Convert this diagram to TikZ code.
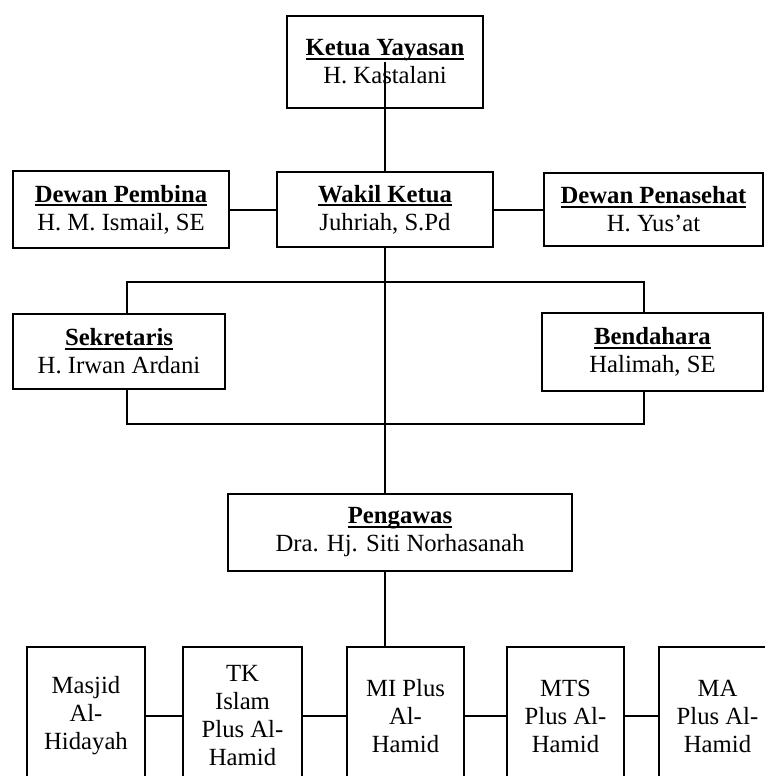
\documentclass[tikz,border=0pt]{standalone}
\usepackage{fontspec}
\setmainfont{Liberation Serif}
\newcommand{\jabatan}[1]{\setbox0\hbox{\textbf{#1}}\rlap{\rule[-2pt]{\wd0}{0.9pt}}\box0}
\begin{document}
\begin{tikzpicture}
		[x=0.5pt, y=-0.5pt, line width=1pt,
		box/.style 2 args={draw, align=center, inner sep=0pt,
			minimum width=#1*0.5pt, minimum height=#2*0.5pt,
			font=\fontsize{12.35}{14}\selectfont}]
		\path[use as bounding box, clip] (0,0) rectangle (765,776);
		\node[box={196}{92}] (ketua) at (385,62) {\jabatan{Ketua Yayasan}\\H. Kastalani};
		\node[box={216}{75}] (wakil) at (385,209.5) {\jabatan{Wakil Ketua}\\Juhriah, S.Pd};
		\node[box={216}{77}] (pembina) at (121,209.5) {\jabatan{Dewan Pembina}\\H. M. Ismail, SE};
		\node[box={219}{73}] (penasehat) at (653.5,209.5) {\jabatan{Dewan Penasehat}\\H. Yus’at};
		\node[box={212}{75}] (sekretaris) at (119,351.5) {\jabatan{Sekretaris}\\H. Irwan Ardani};
		\node[box={221}{78}] (bendahara) at (652.5,352) {\jabatan{Bendahara}\\Halimah, SE};
		\node[box={344}{77}] (pengawas) at (400,532.5) {\jabatan{Pengawas}\\Dra. Hj. Siti Norhasanah};
		\node[box={118}{138}] (masjid) at (86,716) {Masjid\\Al-\\Hidayah};
		\node[box={119}{138}] (tk) at (242.5,716) {TK\\Islam\\Plus Al-\\Hamid};
		\node[box={117}{138}] (mi) at (405.5,716) {MI Plus\\Al-\\Hamid};
		\node[box={117}{138}] (mts) at (565.5,716) {MTS\\Plus Al-\\Hamid};
		\node[box={117}{138}] (ma) at (717.5,716) {MA\\Plus Al-\\Hamid};
		\coordinate (kiri) at (127,282);
		\coordinate (kanan) at (644,282);
		\coordinate (kiribawah) at (127,424);
		\coordinate (kananbawah) at (644,424);
		\draw (ketua.center) -- (wakil.north);
		\draw (pembina.east) -- (wakil.west);
		\draw (wakil.east) -- (penasehat.west);
		\draw (wakil.south) -- (pengawas.north -| wakil.south);
		\draw (kiri |- sekretaris.north) -- (kiri) -- (kanan) -- (kanan |- bendahara.north);
		\draw (kiri |- sekretaris.south) -- (kiribawah) -- (kananbawah) -- (kanan |- bendahara.south);
		\draw (pengawas.south -| wakil.south) -- (mi.north -| wakil.south);
		\foreach \a/\b in {masjid/tk, tk/mi, mi/mts, mts/ma}
			\draw (\a.east) -- (\b.west);
	\end{tikzpicture}
\end{document}
